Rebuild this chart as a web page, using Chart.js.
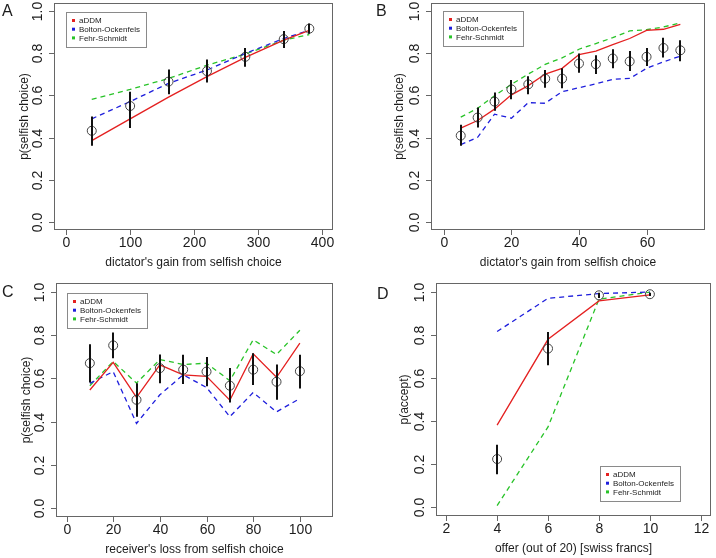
<!DOCTYPE html>
<html>
<head>
<meta charset="utf-8">
<script src="https://cdn.jsdelivr.net/npm/chart.js@4"></script>
<style>
  body { margin: 0; background: #fff; }
  #wrap { position: relative; width: 716px; height: 558px; }
  #wrap canvas { position: absolute; }
</style>
</head>
<body>
<div id="wrap">
  <canvas id="panelA" width="358" height="279" style="left:0;top:0"></canvas>
  <canvas id="panelB" width="358" height="279" style="left:358px;top:0"></canvas>
  <canvas id="panelC" width="358" height="279" style="left:0;top:279px"></canvas>
  <canvas id="panelD" width="358" height="279" style="left:358px;top:279px"></canvas>
</div>
<script>
// shared
const modelNames = ["aDDM", "Bolton-Ockenfels", "Fehr-Schmidt"];
const yTicks = [0, 0.2, 0.4, 0.6, 0.8, 1.0];
const yTickLabels = ["0.0", "0.2", "0.4", "0.6", "0.8", "1.0"];

// panel A
const aX = [40, 100, 160, 220, 280, 340, 380];
const aObs = [0.432, 0.550, 0.666, 0.716, 0.784, 0.868, 0.918];
const aLo = [0.361, 0.445, 0.606, 0.662, 0.737, 0.826, 0.894];
const aHi = [0.500, 0.618, 0.724, 0.771, 0.826, 0.907, 0.942];
const aDDM = [0.385, 0.489, 0.592, 0.690, 0.781, 0.863, 0.910];
const aBO = [0.489, 0.571, 0.658, 0.721, 0.800, 0.871, 0.910];
const aFS = [0.582, 0.629, 0.681, 0.744, 0.797, 0.863, 0.890];
const aXTicks = [0, 100, 200, 300, 400];

// panel B
const bX = [5, 10, 15, 20, 25, 30, 35, 40, 45, 50, 55, 60, 65, 70];
const bObs = [0.409, 0.495, 0.571, 0.629, 0.653, 0.680, 0.680, 0.752, 0.749, 0.776, 0.762, 0.784, 0.826, 0.815];
const bLo = [0.361, 0.448, 0.527, 0.582, 0.606, 0.637, 0.634, 0.708, 0.702, 0.729, 0.716, 0.740, 0.781, 0.763];
const bHi = [0.461, 0.543, 0.614, 0.674, 0.692, 0.721, 0.729, 0.800, 0.792, 0.820, 0.812, 0.826, 0.875, 0.863];
const bDDM = [0.445, 0.481, 0.535, 0.603, 0.647, 0.702, 0.729, 0.795, 0.811, 0.842, 0.871, 0.910, 0.915, 0.938];
const bBO = [0.366, 0.401, 0.511, 0.492, 0.566, 0.563, 0.618, 0.637, 0.655, 0.677, 0.681, 0.729, 0.760, 0.787];
const bFS = [0.497, 0.539, 0.599, 0.653, 0.702, 0.748, 0.779, 0.820, 0.847, 0.875, 0.907, 0.913, 0.926, 0.945];
const bXTicks = [0, 20, 40, 60];

// panel C
const cX = [10, 20, 30, 40, 50, 60, 70, 80, 90, 100];
const cObs = [0.670, 0.752, 0.501, 0.647, 0.640, 0.631, 0.566, 0.640, 0.584, 0.633];
const cLo = [0.581, 0.693, 0.423, 0.577, 0.574, 0.564, 0.488, 0.569, 0.501, 0.553];
const cHi = [0.757, 0.811, 0.577, 0.710, 0.709, 0.698, 0.648, 0.716, 0.664, 0.709];
const cDDM = [0.546, 0.674, 0.512, 0.662, 0.616, 0.609, 0.499, 0.713, 0.605, 0.763];
const cBO = [0.577, 0.631, 0.392, 0.524, 0.616, 0.558, 0.423, 0.535, 0.445, 0.507];
const cFS = [0.566, 0.678, 0.578, 0.687, 0.664, 0.670, 0.589, 0.778, 0.710, 0.822];
const cXTicks = [0, 20, 40, 60, 80, 100];

// panel D
const dX = [4, 6, 8, 10];
const dObs = [0.224, 0.736, 0.983, 0.988];
const dLo = [0.154, 0.659, 0.970, 0.980];
const dHi = [0.290, 0.813, 0.995, 0.995];
const dDDM = [0.381, 0.779, 0.957, 0.985];
const dBO = [0.815, 0.969, 0.991, 0.998];
const dFS = [0.008, 0.373, 0.965, 0.998];
const dXTicks = [2, 4, 6, 8, 10, 12];

const RED = "rgb(228,32,32)", BLUE = "rgb(30,30,220)", GREEN = "rgb(40,195,40)";
const FONT = "'Liberation Sans', Arial, sans-serif";
const TXT = "#1c1c1c";

const pts = (xs, ys) => xs.map((x, i) => ({ x: x, y: ys[i] }));

// R-style frame: box, ticks, rotated y labels, titles, error bars, legend
const rFrame = {
  id: "rFrame",
  afterDatasetsDraw(chart, args, o) {
    const ctx = chart.ctx, a = chart.chartArea;
    const xs = chart.scales.x, ys = chart.scales.y;
    ctx.save();

    // error bars
    ctx.strokeStyle = "#111";
    ctx.lineWidth = 2;
    o.lo.forEach((lo, i) => {
      const px = Math.round(xs.getPixelForValue(o.xv[i]));
      ctx.beginPath();
      ctx.moveTo(px, ys.getPixelForValue(lo));
      ctx.lineTo(px, ys.getPixelForValue(o.hi[i]));
      ctx.stroke();
    });

    // box
    ctx.strokeStyle = "#666";
    ctx.lineWidth = 1;
    ctx.strokeRect(a.left + 0.5, a.top + 0.5, a.right - a.left - 1, a.bottom - a.top - 1);

    // x axis ticks
    ctx.fillStyle = TXT;
    ctx.font = "14px " + FONT;
    ctx.textAlign = "center";
    ctx.textBaseline = "middle";
    o.xTicks.forEach(t => {
      const px = Math.round(xs.getPixelForValue(t)) + 0.5;
      ctx.beginPath();
      ctx.moveTo(px, a.bottom);
      ctx.lineTo(px, a.bottom + 5);
      ctx.stroke();
      ctx.fillText(String(t), px, a.bottom + 13);
    });

    // y axis ticks (rotated labels)
    yTicks.forEach((t, i) => {
      const py = Math.round(ys.getPixelForValue(t)) + 0.5;
      ctx.beginPath();
      ctx.moveTo(a.left, py);
      ctx.lineTo(a.left - 5, py);
      ctx.stroke();
      ctx.save();
      ctx.translate(a.left - 16, py);
      ctx.rotate(-Math.PI / 2);
      ctx.fillText(yTickLabels[i], 0, 0);
      ctx.restore();
    });

    // axis titles
    ctx.font = "12px " + FONT;
    ctx.fillText(o.xTitle, (a.left + a.right) / 2, a.bottom + 33);
    ctx.save();
    ctx.translate(a.left - o.yTitleOff, (a.top + a.bottom) / 2);
    ctx.rotate(-Math.PI / 2);
    ctx.fillText(o.yTitle, 0, 0);
    ctx.restore();

    // panel letter
    ctx.font = "16px " + FONT;
    ctx.textAlign = "left";
    ctx.fillText(o.letter, o.letterPos[0], o.letterPos[1]);

    // legend box
    const lw = 80, lh = 35;
    const lx = o.legend.left !== undefined ? a.left + o.legend.left : a.right - o.legend.right - lw;
    const ly = o.legend.top !== undefined ? a.top + o.legend.top : a.bottom - o.legend.bottom - lh;
    ctx.fillStyle = "#fff";
    ctx.fillRect(lx, ly, lw, lh);
    ctx.strokeStyle = "#8a8a8a";
    ctx.strokeRect(lx + 0.5, ly + 0.5, lw, lh);
    ctx.font = "8px " + FONT;
    chart.data.datasets.slice(1).forEach((ds, i) => {
      const cy = ly + 8.5 + i * 8.7;
      ctx.fillStyle = ds.borderColor;
      ctx.fillRect(lx + 6, cy - 1.5, 3, 3);
      ctx.fillStyle = TXT;
      ctx.fillText(ds.label, lx + 13, cy + 0.5);
    });

    ctx.restore();
  }
};

function makePanel(id, cfg) {
  return new Chart(document.getElementById(id), {
    type: "scatter",
    data: {
      datasets: [
        { label: "observed", data: pts(cfg.xv, cfg.obs), pointRadius: 4.5, pointBorderWidth: 1,
          pointBorderColor: "#444", pointBackgroundColor: "rgba(0,0,0,0)", showLine: false },
        { label: modelNames[0], data: pts(cfg.xv, cfg.m[0]), showLine: true, borderColor: RED,
          borderWidth: 1.3, pointRadius: 0 },
        { label: modelNames[1], data: pts(cfg.xv, cfg.m[1]), showLine: true, borderColor: BLUE,
          borderWidth: 1.3, borderDash: [5, 4], pointRadius: 0 },
        { label: modelNames[2], data: pts(cfg.xv, cfg.m[2]), showLine: true, borderColor: GREEN,
          borderWidth: 1.3, borderDash: [5, 4], pointRadius: 0 }
      ]
    },
    options: {
      responsive: false,
      devicePixelRatio: 1,
      animation: false,
      events: [],
      layout: { autoPadding: false, padding: cfg.pad },
      scales: {
        x: { type: "linear", display: false, min: cfg.xr[0], max: cfg.xr[1] },
        y: { type: "linear", display: false, min: -0.04, max: 1.04 }
      },
      plugins: {
        legend: { display: false },
        tooltip: { enabled: false },
        rFrame: {
          xv: cfg.xv, lo: cfg.lo, hi: cfg.hi, xTicks: cfg.xTicks,
          xTitle: cfg.xTitle, yTitle: cfg.yTitle, yTitleOff: cfg.yTitleOff,
          letter: cfg.letter, letterPos: cfg.letterPos, legend: cfg.legend
        }
      }
    },
    plugins: [rFrame]
  });
}

makePanel("panelA", {
  xv: aX, obs: aObs, lo: aLo, hi: aHi, m: [aDDM, aBO, aFS], xTicks: aXTicks,
  xr: [-19, 417], pad: { left: 54, right: 25, top: 3, bottom: 49 },
  xTitle: "dictator's gain from selfish choice", yTitle: "p(selfish choice)", yTitleOff: 29,
  letter: "A", letterPos: [2, 12], legend: { left: 12, top: 9 }
});
makePanel("panelB", {
  xv: bX, obs: bObs, lo: bLo, hi: bHi, m: [bDDM, bBO, bFS], xTicks: bXTicks,
  xr: [-3.8, 77.3], pad: { left: 73, right: 11, top: 3, bottom: 49 },
  xTitle: "dictator's gain from selfish choice", yTitle: "p(selfish choice)", yTitleOff: 31,
  letter: "B", letterPos: [18, 12], legend: { left: 12, top: 8 }
});
makePanel("panelC", {
  xv: cX, obs: cObs, lo: cLo, hi: cHi, m: [cDDM, cBO, cFS], xTicks: cXTicks,
  xr: [-4.5, 114.2], pad: { left: 56, right: 25, top: 4, bottom: 41 },
  xTitle: "receiver's loss from selfish choice", yTitle: "p(selfish choice)", yTitleOff: 29,
  letter: "C", letterPos: [2, 14], legend: { left: 11, top: 10 }
});
makePanel("panelD", {
  xv: dX, obs: dObs, lo: dLo, hi: dHi, m: [dDDM, dBO, dFS], xTicks: dXTicks,
  xr: [1.6, 12.4], pad: { left: 78, right: 5, top: 4, bottom: 42 },
  xTitle: "offer (out of 20) [swiss francs]", yTitle: "p(accept)", yTitleOff: 31,
  letter: "D", letterPos: [19, 16], legend: { right: 31, bottom: 15 }
});
</script>
</body>
</html>
